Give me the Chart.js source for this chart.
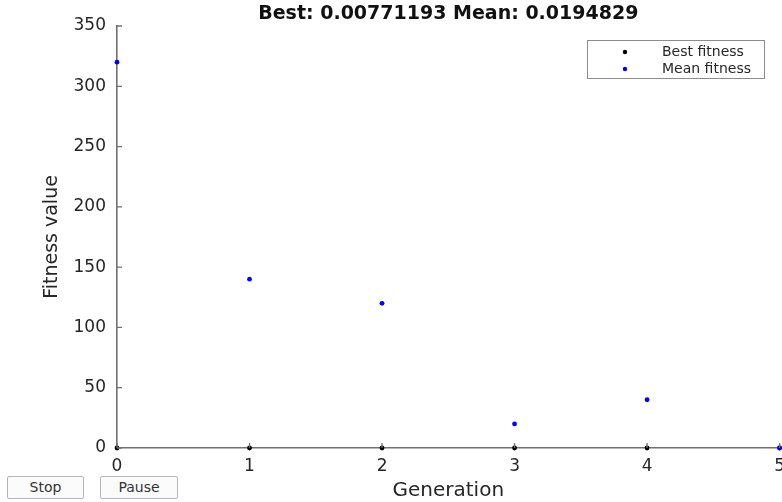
<!DOCTYPE html>
<html>
<head>
<meta charset="utf-8">
<script src="https://cdn.jsdelivr.net/npm/chart.js@4"></script>
<style>
  html, body { margin: 0; padding: 0; background: #ffffff; }
  #wrap { position: relative; width: 782px; height: 502px; overflow: hidden; }
  #c { display: block; }
  .btn {
    position: absolute; top: 476px; height: 23px;
    background: #fbfbfb; border: 1px solid #b4b4b4; border-radius: 2px;
    font-family: "DejaVu Sans", sans-serif; font-size: 14px; color: #333;
    padding: 0; box-sizing: border-box; line-height: 21px; text-align: center;
  }
</style>
</head>
<body>
<div id="wrap">
  <canvas id="c" width="782" height="502"></canvas>
  <button class="btn" style="left:7px;width:77px;">Stop</button>
  <button class="btn" style="left:100px;width:78px;">Pause</button>
</div>
<script>
// ---- data ----
const generations = [0, 1, 2, 3, 4, 5];
const bestFitness = [0, 0, 0, 0, 0, 0.00771193];
const meanFitness = [320, 140, 120, 20, 40, 0.0194829];
const titleText = "Best: 0.00771193 Mean: 0.0194829";
const seriesNames = ["Best fitness", "Mean fitness"];
const xTicks = [0, 1, 2, 3, 4, 5];
const yTicks = [0, 50, 100, 150, 200, 250, 300, 350];

const FONT = "DejaVu Sans";
const AXIS_COLOR = "#707070";
const TEXT_COLOR = "#262626";

function toPoints(xs, ys) { return xs.map((x, i) => ({ x: x, y: ys[i] })); }

// inward tick marks drawn through the library's scales
const inwardTicks = {
  id: 'inwardTicks',
  afterDatasetsDraw(chart) {
    const ctx = chart.ctx;
    const xs = chart.scales.x, ys = chart.scales.y;
    const area = chart.chartArea;
    ctx.save();
    ctx.strokeStyle = AXIS_COLOR;
    ctx.lineWidth = 1.3;
    ctx.beginPath();
    xTicks.forEach(v => {
      const px = xs.getPixelForValue(v);
      ctx.moveTo(px, area.bottom);
      ctx.lineTo(px, area.bottom - 5);
    });
    yTicks.forEach(v => {
      const py = ys.getPixelForValue(v);
      ctx.moveTo(area.left, py);
      ctx.lineTo(area.left + 5, py);
    });
    ctx.stroke();
    ctx.restore();
  }
};

// title centred over the axes (MATLAB style)
const axesTitle = {
  id: 'axesTitle',
  afterDraw(chart) {
    const ctx = chart.ctx;
    const area = chart.chartArea;
    ctx.save();
    ctx.fillStyle = '#111111';
    ctx.font = 'bold 19px "' + FONT + '"';
    ctx.textAlign = 'center';
    ctx.textBaseline = 'middle';
    ctx.fillText(titleText, (area.left + area.right) / 2, area.top - 12);
    ctx.restore();
  }
};

// MATLAB-style boxed legend in the upper right
const boxLegend = {
  id: 'boxLegend',
  afterDraw(chart) {
    const ctx = chart.ctx;
    ctx.save();
    ctx.fillStyle = '#ffffff';
    ctx.fillRect(587, 40, 177, 38);
    ctx.strokeStyle = '#8c8c8c';
    ctx.lineWidth = 1;
    ctx.strokeRect(587.5, 40.5, 177, 38);
    const rows = [52, 69];
    chart.data.datasets.slice().sort((a, b) => a.legendIndex - b.legendIndex).forEach((ds, i) => {
      ctx.fillStyle = ds.pointBackgroundColor;
      ctx.beginPath();
      ctx.arc(625, rows[i], 2.2, 0, Math.PI * 2);
      ctx.fill();
      ctx.fillStyle = TEXT_COLOR;
      ctx.font = '14px "' + FONT + '"';
      ctx.textBaseline = 'middle';
      ctx.textAlign = 'left';
      ctx.fillText(ds.label, 662, rows[i]);
    });
    ctx.restore();
  }
};

new Chart(document.getElementById('c'), {
  type: 'scatter',
  data: {
    datasets: [
      {
        label: seriesNames[1],
        legendIndex: 1,
        data: toPoints(generations, meanFitness),
        pointBackgroundColor: '#0000ff',
        backgroundColor: '#0000ff',
        pointRadius: 2.4,
        pointBorderWidth: 0,
        pointHoverRadius: 2.4,
        clip: false
      },
      {
        label: seriesNames[0],
        legendIndex: 0,
        data: toPoints(generations, bestFitness),
        pointBackgroundColor: '#000000',
        backgroundColor: '#000000',
        pointRadius: 2.4,
        pointBorderWidth: 0,
        pointHoverRadius: 2.4,
        clip: false
      }
    ]
  },
  options: {
    responsive: false,
    animation: false,
    devicePixelRatio: 1,
    layout: { padding: { top: 26, left: 0, right: 0, bottom: 0 } },
    plugins: {
      legend: { display: false },
      tooltip: { enabled: false },
      title: { display: false }
    },
    scales: {
      x: {
        type: 'linear',
        min: 0, max: 5,
        afterBuildTicks(scale) { scale.ticks = xTicks.map(v => ({ value: v })); },
        afterFit(scale) { scale.height = 54; scale.paddingRight = 0; scale.paddingLeft = 0; },
        ticks: {
          color: TEXT_COLOR,
          font: { family: FONT, size: 17, lineHeight: 1.2 },
          padding: 8,
          maxRotation: 0,
          autoSkip: false
        },
        grid: { display: true, drawOnChartArea: false, drawTicks: false, color: 'rgba(0,0,0,0)' },
        border: { display: true, color: AXIS_COLOR, width: 1.6 },
        title: {
          display: true,
          text: 'Generation',
          color: TEXT_COLOR,
          font: { family: FONT, size: 20, lineHeight: 1 },
          padding: { top: 0, bottom: 1 }
        }
      },
      y: {
        type: 'linear',
        min: 0, max: 350,
        afterBuildTicks(scale) { scale.ticks = yTicks.map(v => ({ value: v })); },
        afterFit(scale) { scale.width = 117; scale.paddingTop = 0; },
        ticks: {
          color: TEXT_COLOR,
          font: { family: FONT, size: 17, lineHeight: 1.2 },
          padding: 11,
          autoSkip: false
        },
        grid: { display: true, drawOnChartArea: false, drawTicks: false, color: 'rgba(0,0,0,0)' },
        border: { display: true, color: AXIS_COLOR, width: 1.6 },
        title: {
          display: true,
          text: 'Fitness value',
          color: TEXT_COLOR,
          font: { family: FONT, size: 19, lineHeight: 1 },
          padding: { top: 43, bottom: 0 }
        }
      }
    }
  },
  plugins: [inwardTicks, axesTitle, boxLegend]
});
</script>
</body>
</html>
